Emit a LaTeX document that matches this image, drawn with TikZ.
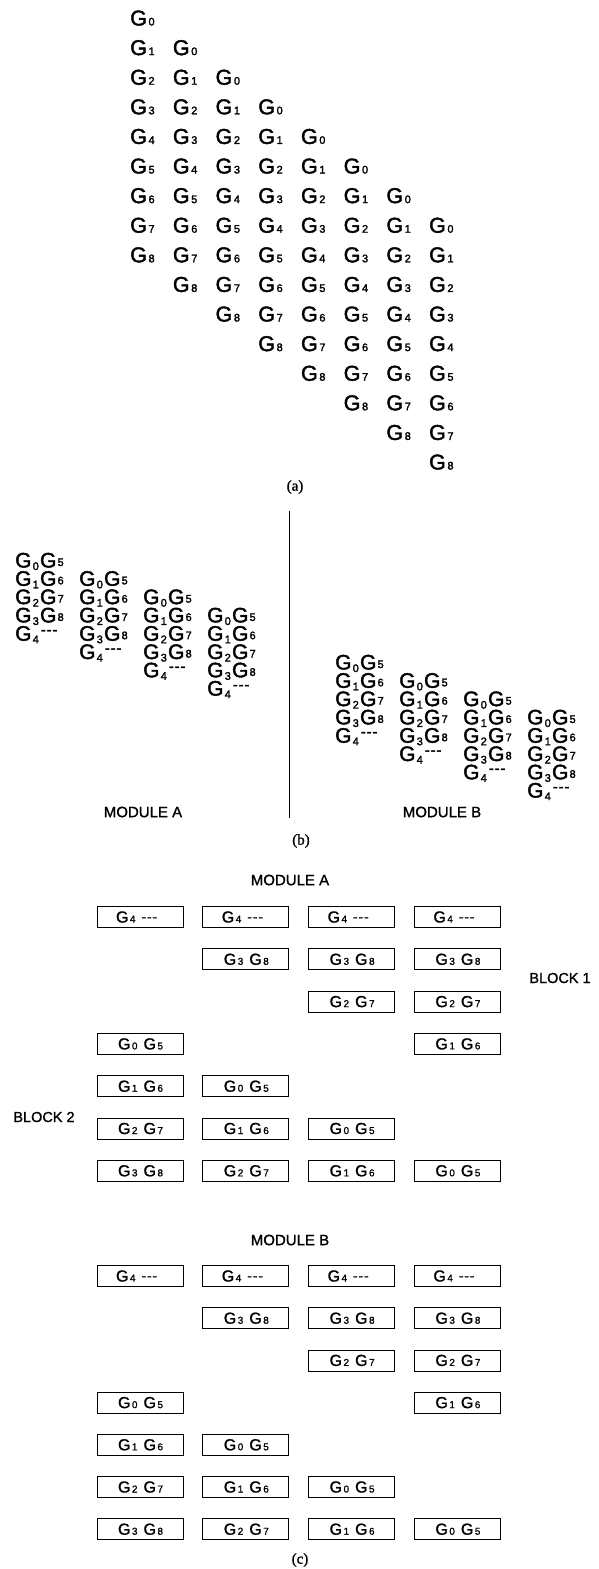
\documentclass[tikz,border=0pt]{standalone}
\usepackage{fontspec}
\setmainfont{Liberation Sans}
\newfontfamily\hv[FakeBold=2]{Liberation Sans}
\newfontfamily\hvl[FakeBold=1.2]{Liberation Sans}
\newfontfamily\tmfont[FakeBold=1.2]{Liberation Serif}
\newcommand\Ga[1]{G\kern1.6pt{\fontsize{11}{11}\selectfont #1}}
\newcommand\Gb[2]{G\kern1.2pt\raisebox{-2.5pt}{\fontsize{11}{11}\selectfont #1}\kern1.2pt G\kern1.2pt\raisebox{1.5pt}{\fontsize{11}{11}\selectfont #2}}
\newcommand\Gbd{G\kern1.2pt\raisebox{-2.5pt}{\fontsize{11}{11}\selectfont 4}\kern2pt\raisebox{6pt}{\fontsize{15}{15}\selectfont -\kern0.8pt-\kern0.8pt-}}
\newcommand\Gc[2]{\makebox[86pt][l]{\hspace{21pt}G\kern1.5pt{\fontsize{10}{10}\selectfont #1}\hspace{6pt}G\kern1.5pt{\fontsize{10}{10}\selectfont #2}}}
\newcommand\Gcd{\makebox[86pt][l]{\hspace{19pt}G\kern1.5pt{\fontsize{10}{10}\selectfont 4}\hspace{6pt}\raisebox{1pt}{\fontsize{14}{14}\selectfont -\kern0.8pt-\kern0.8pt-}}}
\tikzset{
  ga/.style={anchor=base west,inner sep=0pt,font=\hv\fontsize{21.5}{21.5}\selectfont},
  gb/.style={anchor=base west,inner sep=0pt,font=\hv\fontsize{21}{21}\selectfont},
  gbox/.style={draw,line width=0.75pt,minimum width=86pt,minimum height=21pt,inner sep=0pt,font=\hvl\fontsize{16}{16}\selectfont},
  lab/.style={inner sep=0pt,font=\hvl\fontsize{15}{15}\selectfont},
  blab/.style={inner sep=0pt,font=\hvl\fontsize{14.5}{14.5}\selectfont},
  capt/.style={inner sep=0pt,font=\tmfont\fontsize{15}{15}\selectfont},
}
\begin{document}
\begin{tikzpicture}[x=1pt,y=-1pt]
\path[use as bounding box] (0,0) rectangle (598,1569);
% (a)
\foreach \r in {0,...,15}{
  \foreach \c in {0,...,7}{
    \pgfmathtruncatemacro\k{\r-\c}
    \ifnum\k>-1 \ifnum\k<9
      \node[ga] (a\r-\c) at ({130+42.7*\c},{25.5+29.6*\r}) {\Ga{\k}};
    \fi\fi
  }
}
\node[capt] (capa) at (295,487) {(a)};
% (b)
\foreach \c in {0,...,3}{
  \foreach \k in {0,...,4}{
    \pgfmathtruncatemacro\kk{\k+5}
    \pgfmathsetmacro\ya{567.5+18.3*(\c+\k)}
    \pgfmathsetmacro\yb{669.5+18.3*(\c+\k)}
    \ifnum\k<4
      \node[gb] (bA\c-\k) at ({15+64*\c},\ya) {\Gb{\k}{\kk}};
      \node[gb] (bB\c-\k) at ({335+64*\c},\yb) {\Gb{\k}{\kk}};
    \else
      \node[gb] (bA\c-\k) at ({15+64*\c},\ya) {\Gbd};
      \node[gb] (bB\c-\k) at ({335+64*\c},\yb) {\Gbd};
    \fi
  }
}
\coordinate (vt) at (289,511);
\coordinate (vb) at (289,818);
\draw[line width=0.8pt] (vt) -- (vb);
\node[lab] (bmodA) at (143,812) {MODULE A};
\node[lab] (bmodB) at (442,812) {MODULE B};
\node[capt] (capb) at (301,841) {(b)};
% (c)
\node[lab] (cmodA) at (290,880) {MODULE A};
\node[blab] (blk1) at (560,978) {BLOCK 1};
\node[blab] (blk2) at (44,1117) {BLOCK 2};
\node[lab] (cmodB) at (290,1240) {MODULE B};
\node[capt] (capc) at (300,1560) {(c)};
\foreach \r/\c/\t in {1/0/4,1/1/4,1/2/4,1/3/4,2/1/3,2/2/3,2/3/3,3/2/2,3/3/2,4/0/0,4/3/1,5/0/1,5/1/0,6/0/2,6/1/1,6/2/0,7/0/3,7/1/2,7/2/1,7/3/0}{
  \pgfmathtruncatemacro\tb{\t+5}
  \pgfmathsetmacro\xx{140+105.8*\c}
  \pgfmathsetmacro\ya{917+42.3*(\r-1)}
  \pgfmathsetmacro\yb{1276+42.2*(\r-1)}
  \ifnum\t=4
    \node[gbox] (cA\r-\c) at (\xx,\ya) {\Gcd};
    \node[gbox] (cB\r-\c) at (\xx,\yb) {\Gcd};
  \else
    \node[gbox] (cA\r-\c) at (\xx,\ya) {\Gc{\t}{\tb}};
    \node[gbox] (cB\r-\c) at (\xx,\yb) {\Gc{\t}{\tb}};
  \fi
}
\end{tikzpicture}
\end{document}
